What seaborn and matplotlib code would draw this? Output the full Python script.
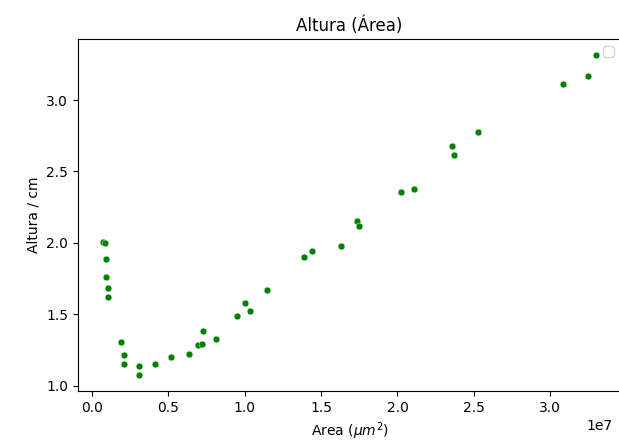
import matplotlib
matplotlib.use("Agg")
import matplotlib.pyplot as plt
import seaborn as sns
import pandas as pd

area_1e7 = [0.070, 0.085, 0.094, 0.094, 0.105, 0.105, 0.190, 0.207, 0.207,
            0.305, 0.305, 0.412, 0.516, 0.632, 0.697, 0.719, 0.730, 0.813,
            0.952, 1.002, 1.037, 1.148, 1.386, 1.438, 1.630, 1.732, 1.745,
            2.020, 2.105, 2.357, 2.368, 2.529, 3.087, 3.246, 3.301]
altura = [2.009, 2.000, 1.887, 1.763, 1.681, 1.622, 1.305, 1.211, 1.153,
          1.134, 1.073, 1.153, 1.202, 1.223, 1.282, 1.291, 1.385, 1.326,
          1.486, 1.580, 1.521, 1.669, 1.899, 1.944, 1.979, 2.153, 2.115,
          2.357, 2.378, 2.676, 2.617, 2.777, 3.111, 3.167, 3.317]

df = pd.DataFrame({'area': [a * 1e7 for a in area_1e7], 'altura': altura})

fig, ax = plt.subplots(figsize=(6.19, 4.47), dpi=100)
sns.scatterplot(data=df, x='area', y='altura', color='green', s=24,
                edgecolor='white', linewidth=0.3, ax=ax)
ax.set_title("Altura (Área)")
ax.set_xlabel(r"Area ($\mu m^2$)")
ax.set_ylabel("Altura / cm")
ax.legend(handles=[], loc='upper right')

# the original image is cropped just past the right spine
fig.subplots_adjust(left=0.126, right=1.003, bottom=0.125, top=0.913)
# keep the 1e7 offset label inside the picture
ax.xaxis.get_offset_text().set_x(0.984)
fig.savefig("out.png", dpi=100)
